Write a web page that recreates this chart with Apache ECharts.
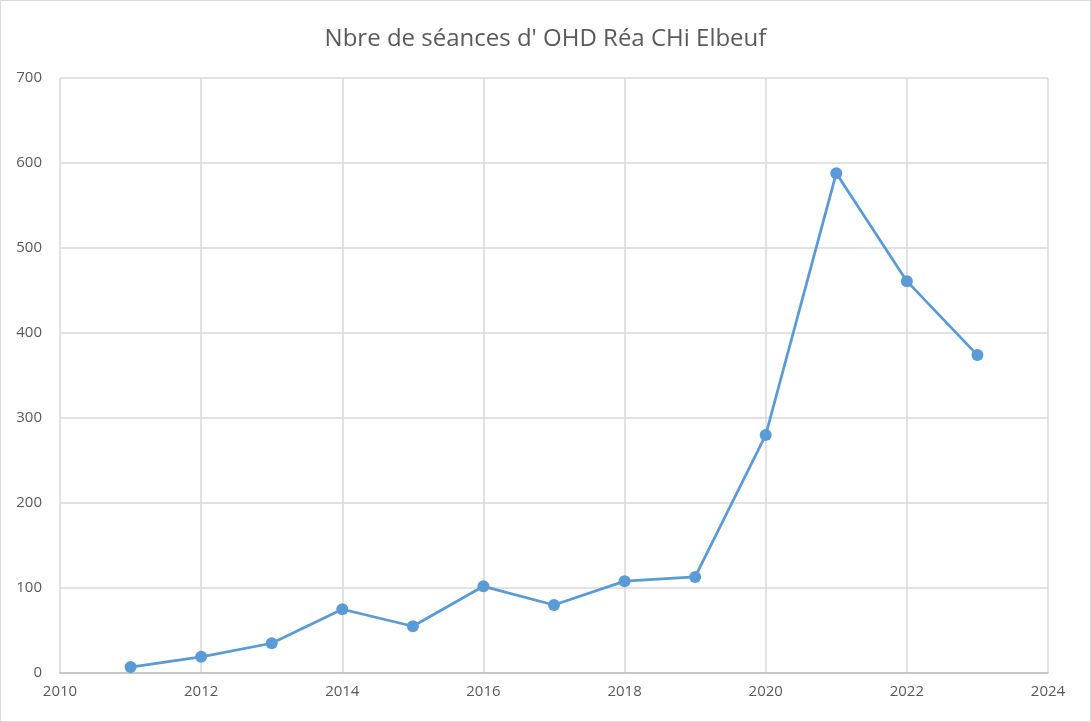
<!DOCTYPE html>
<html><head><meta charset="utf-8">
<script src="https://cdn.jsdelivr.net/npm/echarts@6/dist/echarts.min.js"></script>
<style>html,body{margin:0;padding:0;background:#fff}#c{width:1091px;height:722px;box-sizing:border-box;border:1px solid #d9d9d9}</style>
</head><body><div id="c"></div>
<script>
const titleText = "Nbre de séances d' OHD Réa CHi Elbeuf";
const years = [2011,2012,2013,2014,2015,2016,2017,2018,2019,2020,2021,2022,2023];
const seances = [7,19,35,75,55,102,80,108,113,280,588,461,374];
const chart = echarts.init(document.getElementById('c'));
chart.setOption({
  animation:false,
  title:{text:titleText,left:'center',top:21,textStyle:{fontFamily:'Open Sans',fontSize:24,fontWeight:'normal',color:'#595959'}},
  grid:{left:59,right:42,top:77,bottom:48},
  xAxis:{type:'value',min:2010,max:2024,interval:2,
    axisLine:{show:true,lineStyle:{color:'#bfbfbf',width:1.5}},axisTick:{show:false},
    axisLabel:{color:'#595959',fontSize:15,fontFamily:'Open Sans',margin:11,formatter:v=>String(v)},
    splitLine:{show:true,lineStyle:{color:'#d9d9d9',width:1.5}}},
  yAxis:{type:'value',min:0,max:700,interval:100,
    axisLine:{show:false},axisTick:{show:false},
    axisLabel:{color:'#595959',fontSize:15,fontFamily:'Open Sans',margin:18},
    splitLine:{show:true,lineStyle:{color:'#d9d9d9',width:1.5}}},
  series:[{type:'line',data:years.map((y,i)=>[y,seances[i]]),
    symbol:'circle',symbolSize:12,
    lineStyle:{color:'#5b9bd5',width:2.8},itemStyle:{color:'#5b9bd5'}}]
});
</script></body></html>
